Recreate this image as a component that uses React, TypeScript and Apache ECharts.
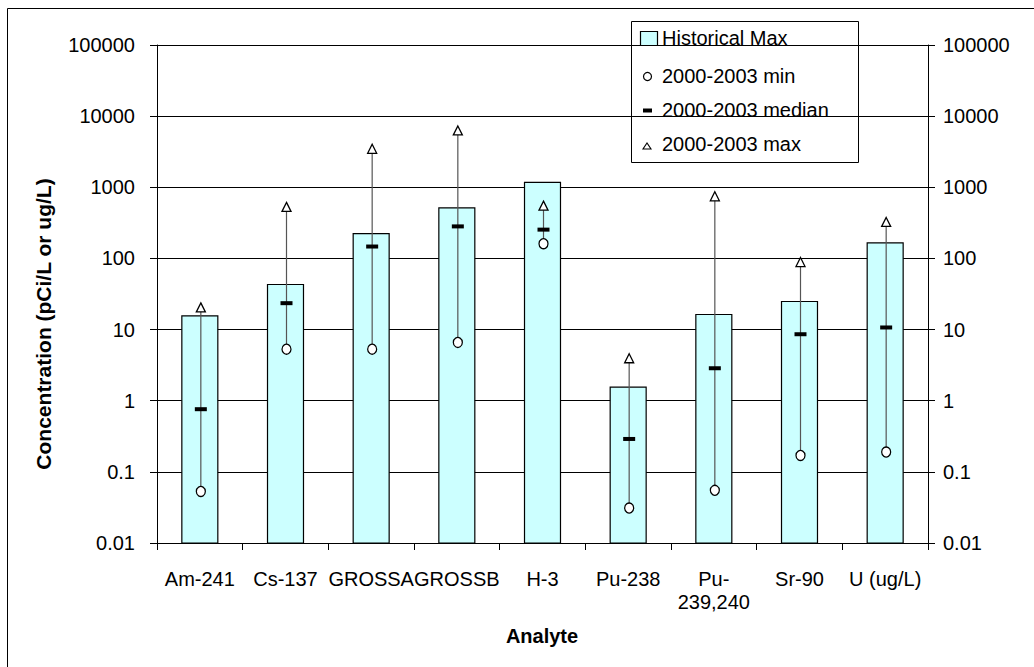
import React, { useEffect, useRef } from "react";
import * as echarts from "echarts";

const categories = ["Am-241", "Cs-137", "GROSSA", "GROSSB", "H-3", "Pu-238", "Pu-239,240", "Sr-90", "U (ug/L)"];
const historicalMax = [15.6, 43, 223, 513, 1175, 1.55, 16.3, 24.8, 165];
const min0003 = [0.053, 5.3, 5.3, 6.6, 161, 0.031, 0.055, 0.17, 0.19];
const median0003 = [0.76, 23.5, 147, 282, 254, 0.29, 2.86, 8.6, 10.7];
const max0003 = [20.5, 530, 3475, 6290, 552, 3.95, 747, 89, 326];
const yTickLabels = ["0.01", "0.1", "1", "10", "100", "1000", "10000", "100000"];
const legendNames = ["Historical Max", "2000-2003 min", "2000-2003 median", "2000-2003 max"];

const FONT = "'Liberation Sans', Arial, sans-serif";

export default function App() {
  const ref = useRef<HTMLDivElement>(null);
  useEffect(() => {
    if (!ref.current) return;
    const chart = echarts.init(ref.current, null, { renderer: "svg" });
    const yFmt = (v: number) => yTickLabels[Math.round(Math.log10(v)) + 2] ?? "";
    const yAxisBase = {
      type: "log",
      logBase: 10,
      min: 0.01,
      max: 100000,
      axisLine: { show: true, lineStyle: { color: "#000", width: 1 } },
      axisTick: { show: true, length: 7, lineStyle: { color: "#000" } },
      minorTick: { show: false },
      axisLabel: { formatter: yFmt, fontSize: 20, color: "#000", fontFamily: FONT },
    };
    const innerTickAxis = (position: string) => ({
      type: "log",
      logBase: 10,
      min: 0.01,
      max: 100000,
      position,
      axisLine: { show: false },
      axisTick: { show: true, inside: true, length: 3, lineStyle: { color: "#000" } },
      axisLabel: { show: false },
      splitLine: { show: false },
    });
    const option: any = {
      animation: false,
      backgroundColor: "#fff",
      grid: { left: 157, right: 106, top: 45, bottom: 124 },
      xAxis: {
        type: "category",
        data: categories,
        boundaryGap: true,
        axisLine: { show: true, lineStyle: { color: "#000", width: 1 } },
        axisTick: { show: true, length: 7, interval: 0, lineStyle: { color: "#000" } },
        axisLabel: {
          interval: 0,
          hideOverlap: false,
          fontSize: 20,
          lineHeight: 23,
          margin: 24,
          color: "#000",
          fontFamily: FONT,
          formatter: (v: string) => (v === "Pu-239,240" ? "Pu-\n239,240" : v),
        },
        splitLine: { show: false },
      },
      yAxis: [
        {
          ...yAxisBase,
          position: "left",
          splitLine: { show: true, lineStyle: { color: "#000", width: 1 } },
          axisLabel: { ...yAxisBase.axisLabel, margin: 22 },
        },
        {
          ...yAxisBase,
          position: "right",
          splitLine: { show: false },
          axisLabel: { ...yAxisBase.axisLabel, margin: 15 },
        },
        innerTickAxis("left"),
        innerTickAxis("right"),
      ],
      series: [
        {
          type: "custom",
          name: legendNames[0],
          z: 2,
          encode: { x: 0, y: 1 },
          data: categories.map((_, i) => [i, historicalMax[i]]),
          renderItem: (params: any, api: any) => {
            const i = api.value(0);
            const top = api.coord([i, api.value(1)]);
            const base = api.coord([i, 0.01]);
            const w = api.size([1, 1])[0] * 0.42;
            return {
              type: "rect",
              shape: { x: top[0] - w / 2, y: top[1], width: w, height: base[1] - top[1] },
              style: { fill: "#CCFFFF", stroke: "#000", lineWidth: 1.2 },
            };
          },
        },
        {
          type: "custom",
          name: "range",
          z: 3,
          encode: { x: 0, y: [1, 2] },
          data: categories.map((_, i) => [i, min0003[i], max0003[i]]),
          renderItem: (params: any, api: any) => {
            const i = api.value(0);
            const a = api.coord([i, api.value(1)]);
            const b = api.coord([i, api.value(2)]);
            return {
              type: "line",
              shape: { x1: a[0] + 1, y1: a[1], x2: b[0] + 1, y2: b[1] },
              style: { stroke: "#555", lineWidth: 1.2 },
            };
          },
        },
        {
          type: "scatter",
          name: legendNames[1],
          z: 5,
          symbol: "circle",
          symbolSize: [9, 10],
          symbolOffset: [1, 0],
          itemStyle: { color: "#fff", borderColor: "#000", borderWidth: 1.3, opacity: 1 },
          data: categories.map((_, i) => [i, min0003[i]]),
        },
        {
          type: "scatter",
          name: legendNames[2],
          z: 5,
          symbol: "rect",
          symbolSize: [12, 4],
          symbolOffset: [1, 0],
          itemStyle: { color: "#000", opacity: 1 },
          data: categories.map((_, i) => [i, median0003[i]]),
        },
        {
          type: "scatter",
          name: legendNames[3],
          z: 5,
          symbol: "triangle",
          symbolSize: [9, 9],
          symbolOffset: [1, 0],
          itemStyle: { color: "#fff", borderColor: "#000", borderWidth: 1.3, opacity: 1 },
          data: categories.map((_, i) => [i, max0003[i]]),
        },
      ],
      graphic: [
        {
          type: "rect",
          z: 100,
          shape: { x: 7.5, y: 8.5, width: 1100, height: 800 },
          style: { fill: "none", stroke: "#000", lineWidth: 1 },
          silent: true,
        },
        {
          type: "text",
          z: 100,
          x: 43,
          y: 324,
          rotation: Math.PI / 2,
          style: {
            text: "Concentration (pCi/L or ug/L)",
            fontSize: 21,
            fontWeight: "bold",
            fontFamily: FONT,
            fill: "#000",
            align: "center",
            verticalAlign: "middle",
          },
        },
        {
          type: "text",
          z: 100,
          x: 542,
          y: 636,
          style: {
            text: "Analyte",
            fontSize: 20,
            fontWeight: "bold",
            fontFamily: FONT,
            fill: "#000",
            align: "center",
            verticalAlign: "middle",
          },
        },
        {
          type: "group",
          z: 100,
          children: [
            {
              type: "rect",
              shape: { x: 631.5, y: 21.5, width: 227, height: 141 },
              style: { fill: "#fff", stroke: "#000", lineWidth: 1 },
            },
            {
              type: "rect",
              shape: { x: 640.5, y: 31.5, width: 17, height: 14 },
              style: { fill: "#CCFFFF", stroke: "#000", lineWidth: 1.2 },
            },
            {
              type: "circle",
              shape: { cx: 647.5, cy: 76.5, r: 4 },
              style: { fill: "#fff", stroke: "#000", lineWidth: 1.2 },
            },
            {
              type: "rect",
              shape: { x: 643, y: 108.5, width: 9, height: 4 },
              style: { fill: "#000" },
            },
            {
              type: "polygon",
              shape: { points: [[643, 149], [651, 149], [647, 143]] },
              style: { fill: "#fff", stroke: "#000", lineWidth: 1.1 },
            },
            ...legendNames.map((n, k) => ({
              type: "text",
              x: 662,
              y: [38, 76, 110, 144][k],
              style: {
                text: n,
                fontSize: 20,
                fontFamily: FONT,
                fill: "#000",
                align: "left",
                verticalAlign: "middle",
              },
            })),
          ],
        },
      ],
    };
    chart.setOption(option);
    return () => chart.dispose();
  }, []);
  return (
    <div
      ref={ref}
      style={{ position: "fixed", left: 0, top: 0, width: 1034, height: 667 }}
    />
  );
}
